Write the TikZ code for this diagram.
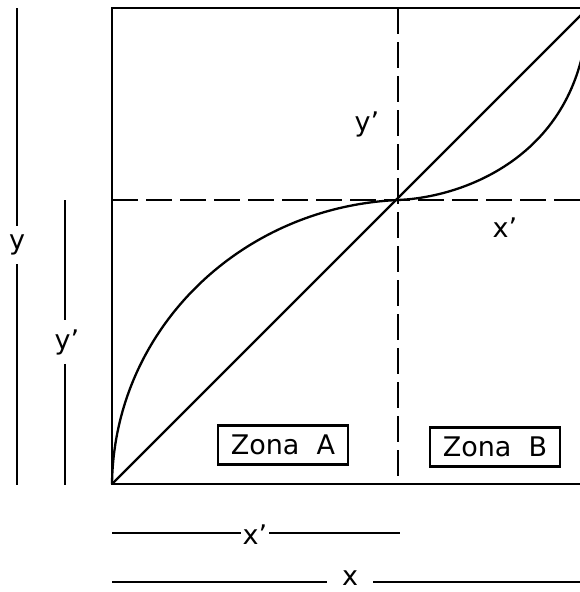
\documentclass[tikz,border=0pt]{standalone}
\usepackage{fontspec}
\setmainfont{DejaVu Sans}
\usetikzlibrary{positioning}

\begin{document}
\begin{tikzpicture}[
  x=1pt, y=-1pt,
  frame/.style={line width=2.8pt},
  thin line/.style={line width=2.3pt},
  dashline/.style={line width=2.6pt, dash pattern=on 26pt off 8pt},
  lab/.style={font=\fontsize{27}{27}\selectfont, inner sep=2pt},
  zona/.style={draw, line width=2.6pt, font=\fontsize{27}{27}\selectfont,
               minimum width=130pt, minimum height=39pt, inner sep=2pt}
]
  \useasboundingbox (0,0) rectangle (580,592);
  \clip (0,0) rectangle (580,592);

  % corners of the square and the crossing point
  \coordinate (o)  at (112,484);
  \coordinate (tl) at (112,8);
  \coordinate (tr) at (588,8);
  \coordinate (br) at (588,484);
  \coordinate (c)  at (398,200);

  \draw[frame] (tl) -- (o) -- (br) -- (tr) -- cycle;

  % dashed axes through the crossing point
  \draw[dashline] (398,8) -- (398,484);
  \draw[dashline] (112,200) -- (588,200);

  % diagonal and curve
  \draw[thin line] (o) -- (tr);
  \draw[thin line] (o) .. controls (114,330) and (240,207) .. (c)
                       .. controls (470,197) and (585,150) .. (tr);

  % labels inside
  \node[lab] (yin) at (367,124) {y’};
  \node[lab] (xin) at (505,228) {x’};
  \node[zona] (za) at (283,445) {Zona\ \ A};
  \node[zona] (zb) at (495,447) {Zona\ \ B};

  % dimension lines on the left
  \coordinate (ytop) at (17,8);
  \coordinate (ybot) at (17,485);
  \node[lab, inner ysep=9pt] (ylab) at (17,245) {y};
  \draw[thin line] (ytop) -- (ylab);
  \draw[thin line] (ylab) -- (ybot);

  \coordinate (yptop) at (65,200);
  \coordinate (ypbot) at (65,485);
  \node[lab, inner ysep=9pt] (yplab) at (67,342) {y’};
  \draw[thin line] (yptop) -- (yptop |- yplab.north);
  \draw[thin line] (ypbot |- yplab.south) -- (ypbot);

  % dimension lines below
  \coordinate (xpl) at (112,533);
  \coordinate (xpr) at (400,533);
  \node[lab, inner xsep=2pt] (xplab) at (255,535) {x’};
  \draw[thin line] (xpl) -- (xpl -| xplab.west);
  \draw[thin line] (xpr -| xplab.east) -- (xpr);

  \coordinate (xl) at (112,582);
  \coordinate (xr) at (590,582);
  \node[lab, inner xsep=15pt, inner ysep=0pt] (xlab) at (350,578) {x};
  \draw[thin line] (xl) -- (xl -| xlab.west);
  \draw[thin line] (xr -| xlab.east) -- (xr);
\end{tikzpicture}
\end{document}
